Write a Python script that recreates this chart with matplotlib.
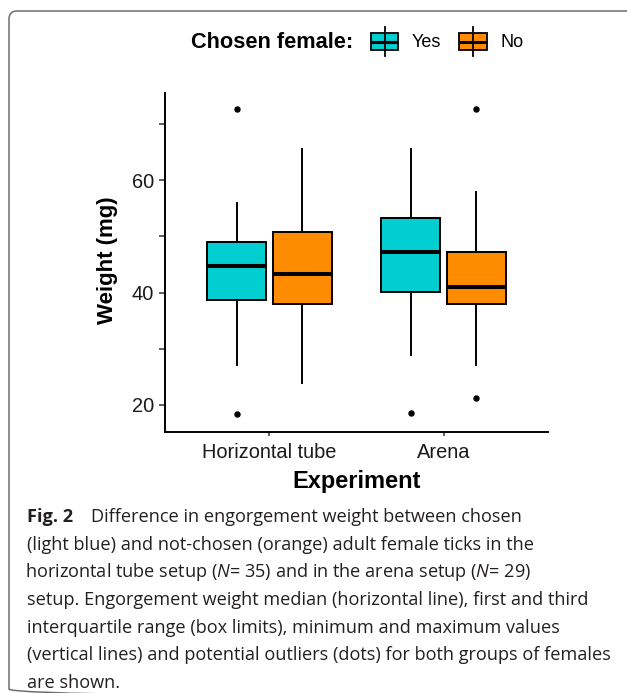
import matplotlib
matplotlib.use("Agg")
import matplotlib.pyplot as plt
from matplotlib.patches import FancyBboxPatch, Rectangle
from matplotlib.lines import Line2D
from matplotlib.transforms import Affine2D

# ---------------- data ----------------
categories = ["Horizontal tube", "Arena"]
groups = ["Yes", "No"]
group_colors = ["#00CED1", "#FF8C00"]

yes_whislo = [27.1, 28.9]
yes_q1 = [38.6, 40.1]
yes_med = [44.8, 47.3]
yes_q3 = [49.0, 53.3]
yes_whishi = [56.0, 65.5]
yes_fliers = [[72.6, 18.4], [18.5]]

no_whislo = [24.0, 27.1]
no_q1 = [38.0, 37.9]
no_med = [43.3, 41.0]
no_q3 = [50.8, 47.2]
no_whishi = [65.5, 57.9]
no_fliers = [[], [72.7, 21.2]]

y_ticks = [20, 30, 40, 50, 60, 70]
y_ticklabels = ["20", "", "40", "", "60", ""]

caption_lines = [
    "Difference in engorgement weight between chosen",
    "(light blue) and not-chosen (orange) adult female ticks in the",
    r"horizontal tube setup ($\mathit{N}$= 35) and in the arena setup ($\mathit{N}$= 29)",
    "setup. Engorgement weight median (horizontal line), first and third",
    "interquartile range (box limits), minimum and maximum values",
    "(vertical lines) and potential outliers (dots) for both groups of females",
    "are shown.",
]

# ---------------- figure ----------------
W, H = 627, 693
plt.rcParams["mathtext.fontset"] = "custom"
plt.rcParams["mathtext.rm"] = "Open Sans"
plt.rcParams["mathtext.it"] = "Open Sans:italic"
fig = plt.figure(figsize=(W / 100, H / 100), dpi=100)
# pixel transform (x from left, y from top)
T = Affine2D().scale(1 / 100, -1 / 100).translate(0, H / 100) + fig.dpi_scale_trans

ax = fig.add_axes([165 / W, 1 - 431.7 / H, (548 - 165) / W, (431.7 - 93) / H])

stats_sets = [
    (yes_whislo, yes_q1, yes_med, yes_q3, yes_whishi, yes_fliers),
    (no_whislo, no_q1, no_med, no_q3, no_whishi, no_fliers),
]
offsets = [-0.1875, 0.1875]
for g, (wl, q1, md, q3, wh, fl) in enumerate(stats_sets):
    stats = []
    for i in range(len(categories)):
        stats.append(dict(whislo=wl[i], q1=q1[i], med=md[i], q3=q3[i],
                          whishi=wh[i], fliers=fl[i]))
    pos = [i + 1 + offsets[g] for i in range(len(categories))]
    ax.bxp(stats, positions=pos, widths=0.34, patch_artist=True,
           showcaps=False, manage_ticks=False,
           boxprops=dict(facecolor=group_colors[g], edgecolor="black", linewidth=1.4),
           medianprops=dict(color="black", linewidth=2.9, solid_capstyle="butt"),
           whiskerprops=dict(color="black", linewidth=1.4),
           flierprops=dict(marker="o", markerfacecolor="black", markeredgecolor="black",
                           markersize=3.6, linestyle="none"))

ax.set_xlim(0.4, 2.6)
ax.set_ylim(15.25, 75.5)
ax.set_xticks([1, 2])
ax.set_xticklabels(categories, fontsize=14.4, family="Liberation Sans", color="#1a1a1a")
ax.set_yticks(y_ticks)
ax.set_yticklabels(y_ticklabels, fontsize=14.4, family="Liberation Sans", color="#1a1a1a")
ax.tick_params(axis="y", length=4.3, width=1.1, pad=3.5, color="#333333")
ax.tick_params(axis="x", length=3, width=1.1, pad=5, color="#333333")
for s in ["top", "right"]:
    ax.spines[s].set_visible(False)
for s in ["left", "bottom"]:
    ax.spines[s].set_linewidth(1.4)
    ax.spines[s].set_color("black")
ax.set_facecolor("none")

fig.text(356.5, 481.7, "Experiment", transform=T, ha="center", va="center",
         fontsize=17, fontweight="bold", family="Liberation Sans")
fig.text(107, 260, "Weight (mg)", transform=T, ha="center", va="center", rotation=90,
         fontsize=16, fontweight="bold", family="Liberation Sans")

# ---------------- legend ----------------
fig.text(191, 42.5, "Chosen female:", transform=T, ha="left", va="center",
         fontsize=15.7, fontweight="bold", family="Liberation Sans")
key_x = [370.7, 459.0]
text_x = [412.0, 500.0]
for g in range(len(groups)):
    x0 = key_x[g]
    kw = 27.6
    cx = x0 + kw / 2
    fig.add_artist(Line2D([cx, cx], [27, 56], transform=T, color="black", linewidth=1.3))
    fig.add_artist(Rectangle((x0, 33), kw, 17, transform=T, facecolor=group_colors[g],
                             edgecolor="black", linewidth=1.3))
    fig.add_artist(Line2D([x0, x0 + kw], [41.5, 41.5], transform=T, color="black",
                          linewidth=2.2, solid_capstyle="butt"))
    fig.text(text_x[g], 42.5, groups[g], transform=T, ha="left", va="center",
             fontsize=13, family="Liberation Sans")

# ---------------- frame ----------------
fig.add_artist(FancyBboxPatch((9, 11), 640, 686, transform=T,
                              boxstyle="round,pad=0,rounding_size=8",
                              facecolor="none", edgecolor="#6e6e6e", linewidth=1.1))

# ---------------- caption ----------------
base0 = 522.3
step = 27.57
cap_font = dict(family="Open Sans", fontsize=13.05, color="#231f20")
fig.text(27, base0, "Fig. 2", transform=T, ha="left", va="baseline",
         fontweight="bold", **cap_font)
for i, line in enumerate(caption_lines):
    x = 91 if i == 0 else (25 if i == 2 else 27)
    fig.text(x, base0 + i * step, line, transform=T, ha="left", va="baseline", **cap_font)

fig.savefig("out.png", dpi=100)
